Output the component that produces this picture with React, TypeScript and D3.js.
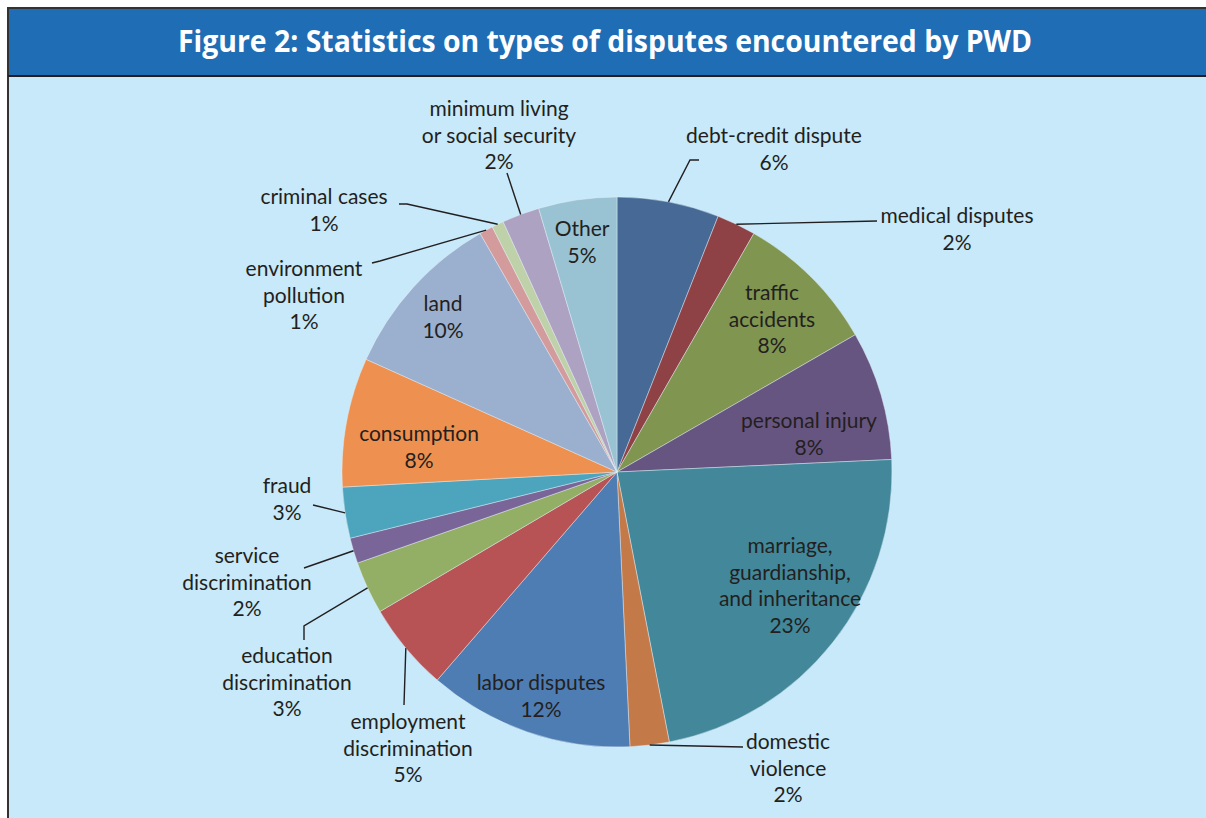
import React from 'react';
import * as d3 from 'd3';

const categories: string[] = [
  'debt-credit dispute',
  'medical disputes',
  'traffic accidents',
  'personal injury',
  'marriage, guardianship, and inheritance',
  'domestic violence',
  'labor disputes',
  'employment discrimination',
  'education discrimination',
  'service discrimination',
  'fraud',
  'consumption',
  'land',
  'environment pollution',
  'criminal cases',
  'minimum living or social security',
  'Other',
];

const values: number[] = [6.0, 2.3, 8.4, 7.6, 22.7, 2.3, 12.1, 5.2, 3.1, 1.5, 3.0, 7.6, 10.0, 0.8, 0.7, 2.2, 4.6];

const sliceColors: string[] = [
  '#466A95', '#8F4246', '#7F9550', '#675581', '#42889A', '#C47A48',
  '#4E7DB3', '#B75355', '#93AE65', '#7A6598', '#4CA5BD', '#EE904F',
  '#9BAFCE', '#D49B9D', '#BFD1A8', '#ADA2C1', '#99C3D3',
];

const title = 'Figure 2: Statistics on types of disputes encountered by PWD';

// label layout: text lines (category broken into lines), anchor x, first baseline y, leader elbow points
type LabelLayout = { lines: string[]; x: number; y: number; leader?: [number, number][] };
const labelLayout: LabelLayout[] = [
  { lines: ['debt-credit dispute'], x: 774, y: 143, leader: [[699, 160], [690, 160]] },
  { lines: ['medical disputes'], x: 957, y: 223, leader: [[877, 221]] },
  { lines: ['traffic', 'accidents'], x: 772, y: 300 },
  { lines: ['personal injury'], x: 809, y: 428 },
  { lines: ['marriage,', 'guardianship,', 'and inheritance'], x: 790, y: 553 },
  { lines: ['domestic', 'violence'], x: 788, y: 749, leader: [[743, 747]] },
  { lines: ['labor disputes'], x: 541, y: 690 },
  { lines: ['employment', 'discrimination'], x: 408, y: 729, leader: [[404, 705]] },
  { lines: ['education', 'discrimination'], x: 287, y: 663, leader: [[304, 640], [304, 626]] },
  { lines: ['service', 'discrimination'], x: 247, y: 563, leader: [[304, 568]] },
  { lines: ['fraud'], x: 287, y: 493, leader: [[313, 505]] },
  { lines: ['consumption'], x: 419, y: 441 },
  { lines: ['land'], x: 443, y: 311 },
  { lines: ['environment', 'pollution'], x: 304, y: 276, leader: [[372, 263], [380, 261]] },
  { lines: ['criminal cases'], x: 324, y: 204, leader: [[399, 204], [407, 204]] },
  { lines: ['minimum living', 'or social security'], x: 499, y: 116, leader: [[507, 173]] },
  { lines: ['Other'], x: 582, y: 236 },
];

const W = 1206;
const H = 818;
const CX = 617;
const CY = 472;
const R = 275;
const LINE_H = 26.5;

export default function App() {
  const data = categories.map((c, i) => ({ name: c, value: values[i], i }));
  const pie = d3.pie<any>().value((d) => d.value).sort(null).startAngle(0).endAngle(2 * Math.PI);
  const arcs = pie(data);
  const arc = d3.arc<any>().innerRadius(0).outerRadius(R);
  const line = d3.line();

  return (
    <svg width={W} height={H} style={{ position: 'absolute', left: 0, top: 0, background: '#ffffff' }}>
      {/* frame */}
      <rect x={8} y={8} width={W} height={H} fill="#C7E9F9" stroke="#333333" strokeWidth={2} />
      <rect x={9} y={9} width={W} height={66} fill="#1F6DB5" />
      <line x1={8} x2={W} y1={76} y2={76} stroke="#231F20" strokeWidth={2} />
      <text
        x={178}
        y={52}
        fill="#ffffff"
        fontFamily="'Open Sans', 'Noto Sans', sans-serif"
        fontWeight={700}
        fontSize={31}
        textLength={854}
        lengthAdjust="spacingAndGlyphs"
      >
        {title}
      </text>

      <g transform={`translate(${CX},${CY})`}>
        {arcs.map((a) => (
          <path
            key={a.data.name}
            d={arc(a) || ''}
            fill={sliceColors[a.index]}
            stroke="#e8f2f8"
            strokeOpacity={0.55}
            strokeWidth={0.8}
          />
        ))}
      </g>

      {/* leader lines */}
      {arcs.map((a) => {
        const lay = labelLayout[a.index];
        if (!lay.leader) return null;
        const mid = (a.startAngle + a.endAngle) / 2;
        const ex = CX + R * Math.sin(mid);
        const ey = CY - R * Math.cos(mid);
        const pts: [number, number][] = [...lay.leader, [ex, ey]];
        return (
          <path key={'l' + a.index} d={line(pts) || ''} fill="none" stroke="#231F20" strokeWidth={1.4} />
        );
      })}

      {/* labels */}
      {arcs.map((a) => {
        const lay = labelLayout[a.index];
        const lines = [...lay.lines, `${Math.round(a.data.value)}%`];
        return (
          <text
            key={'t' + a.index}
            textAnchor="middle"
            fontFamily="Lato, 'Noto Sans', sans-serif"
            fontSize={21}
            fill="#231F20"
          >
            {lines.map((t, k) => (
              <tspan key={k} x={lay.x} y={lay.y + k * LINE_H}>
                {t}
              </tspan>
            ))}
          </text>
        );
      })}
    </svg>
  );
}
